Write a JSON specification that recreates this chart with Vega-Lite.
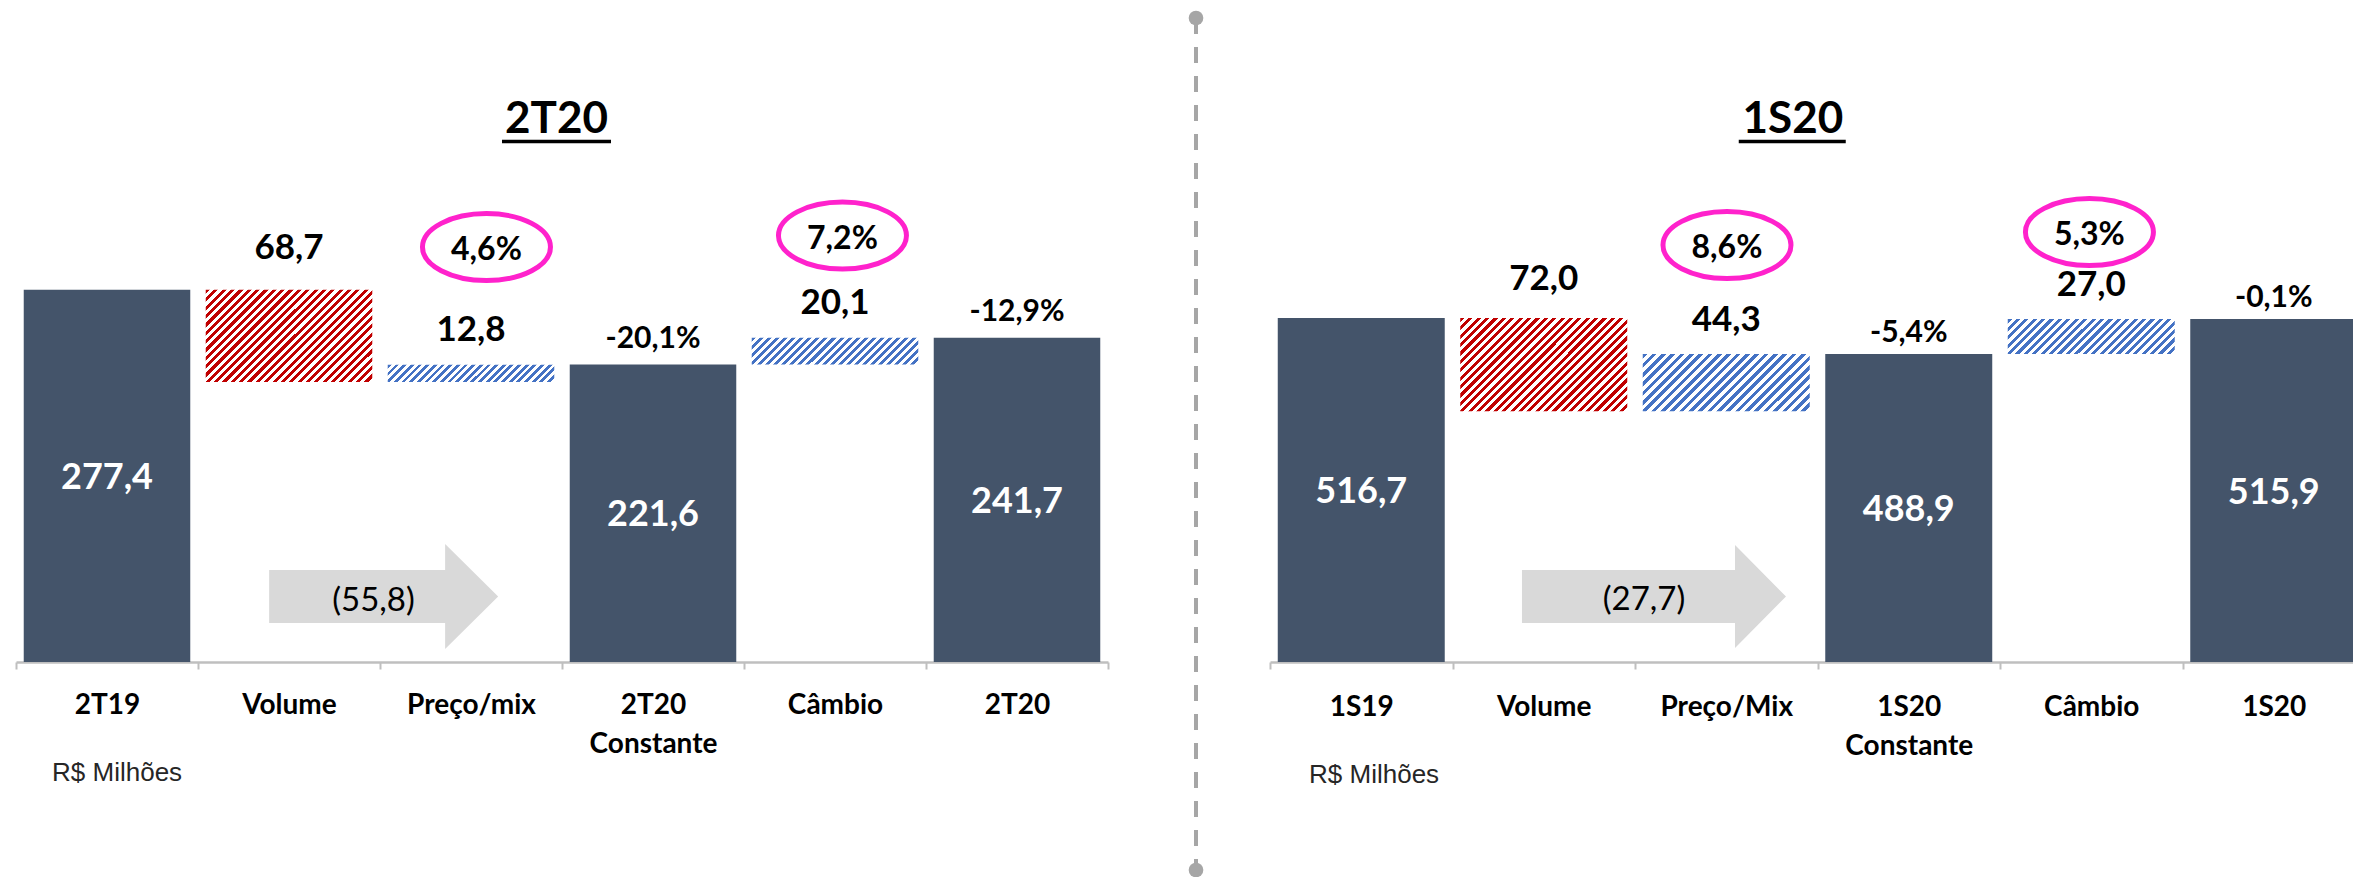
{
"width": 2353, "height": 662,
"autosize": {"type": "none"},
"padding": {"left": 0, "top": 0, "right": 0, "bottom": 215},
"background": "white",
"config": {"view": {"stroke": null}, "font": "Lato"},
"datasets": {
"left": [
{"cat":"2T19","kind":"total","lo":0,"hi":277.4,"value":"277,4","pct":""},
{"cat":"Volume","kind":"neg","lo":208.7,"hi":277.4,"value":"68,7","pct":""},
{"cat":"Preço/mix","kind":"pos","lo":208.7,"hi":221.5,"value":"12,8","pct":"4,6%"},
{"cat":"2T20 Constante","kind":"total","lo":0,"hi":221.6,"value":"221,6","pct":"-20,1%"},
{"cat":"Câmbio","kind":"pos","lo":221.6,"hi":241.7,"value":"20,1","pct":"7,2%"},
{"cat":"2T20","kind":"total","lo":0,"hi":241.7,"value":"241,7","pct":"-12,9%"}
],
"right": [
{"cat":"1S19","kind":"total","lo":0,"hi":516.7,"value":"516,7","pct":""},
{"cat":"Volume","kind":"neg","lo":444.7,"hi":516.7,"value":"72,0","pct":""},
{"cat":"Preço/Mix","kind":"pos","lo":444.7,"hi":489.0,"value":"44,3","pct":"8,6%"},
{"cat":"1S20 Constante","kind":"total","lo":0,"hi":488.9,"value":"488,9","pct":"-5,4%"},
{"cat":"Câmbio","kind":"pos","lo":488.9,"hi":515.9,"value":"27,0","pct":"5,3%"},
{"cat":"1S20","kind":"total","lo":0,"hi":515.9,"value":"515,9","pct":"-0,1%"}
],
"leftMeta": [{"title":"2T20","unit":"R$ Milhões","change":"(55,8)"}],
"rightMeta": [{"title":"1S20","unit":"R$ Milhões","change":"(27,7)"}]
},
"layer": [
{
"data": {"name": "left"},
"layer": [
{"layer": [
{"transform": [{"filter": {"field": "kind", "equal": "total"}}],
 "mark": {"type": "bar", "color": "#44546A", "width": {"band": 0.915}, "clip": true},
 "encoding": {
  "x": {"field": "cat", "type": "nominal", "scale": {"domain": ["2T19","Volume","Preço/mix","2T20 Constante","Câmbio","2T20"], "range": [16, 1108], "paddingInner": 0, "paddingOuter": 0},
   "axis": {"orient": "bottom", "title": null, "grid": false, "domainColor": "#BFBFBF", "domainWidth": 2.5, "tickColor": "#BFBFBF", "tickWidth": 2, "tickSize": 7, "tickBand": "extent", "labelAngle": 0, "labelFont": "Lato", "labelFontWeight": "bold", "labelFontSize": 28, "labelColor": "#000", "labelPadding": 22, "labelLineHeight": 39, "labelOverlap": false, "labelExpr": "isString(datum.value) ? split(datum.value, ' ') : ''"}},
  "y": {"field": "lo", "type": "quantitative", "scale": {"domain": [0, 493.3], "nice": false, "zero": false}, "axis": null},
  "y2": {"field": "hi"}}},
{"transform": [{"filter": {"field": "cat", "equal": "Volume"}}],
 "mark": {"type": "bar", "width": {"band": 0.915}, "fill": {"gradient": "linear", "x1": 0, "y1": 0, "x2": 1.189, "y2": 0.659, "stops": [
{"offset":0,"color":"#c00000"},{"offset":0.0161,"color":"#c00000"},{"offset":0.0161,"color":"#fff"},{"offset":0.0323,"color":"#fff"},
{"offset":0.0323,"color":"#c00000"},{"offset":0.0484,"color":"#c00000"},{"offset":0.0484,"color":"#fff"},{"offset":0.0645,"color":"#fff"},
{"offset":0.0645,"color":"#c00000"},{"offset":0.0806,"color":"#c00000"},{"offset":0.0806,"color":"#fff"},{"offset":0.0968,"color":"#fff"},
{"offset":0.0968,"color":"#c00000"},{"offset":0.1129,"color":"#c00000"},{"offset":0.1129,"color":"#fff"},{"offset":0.129,"color":"#fff"},
{"offset":0.129,"color":"#c00000"},{"offset":0.1452,"color":"#c00000"},{"offset":0.1452,"color":"#fff"},{"offset":0.1613,"color":"#fff"},
{"offset":0.1613,"color":"#c00000"},{"offset":0.1774,"color":"#c00000"},{"offset":0.1774,"color":"#fff"},{"offset":0.1935,"color":"#fff"},
{"offset":0.1935,"color":"#c00000"},{"offset":0.2097,"color":"#c00000"},{"offset":0.2097,"color":"#fff"},{"offset":0.2258,"color":"#fff"},
{"offset":0.2258,"color":"#c00000"},{"offset":0.2419,"color":"#c00000"},{"offset":0.2419,"color":"#fff"},{"offset":0.2581,"color":"#fff"},
{"offset":0.2581,"color":"#c00000"},{"offset":0.2742,"color":"#c00000"},{"offset":0.2742,"color":"#fff"},{"offset":0.2903,"color":"#fff"},
{"offset":0.2903,"color":"#c00000"},{"offset":0.3065,"color":"#c00000"},{"offset":0.3065,"color":"#fff"},{"offset":0.3226,"color":"#fff"},
{"offset":0.3226,"color":"#c00000"},{"offset":0.3387,"color":"#c00000"},{"offset":0.3387,"color":"#fff"},{"offset":0.3548,"color":"#fff"},
{"offset":0.3548,"color":"#c00000"},{"offset":0.371,"color":"#c00000"},{"offset":0.371,"color":"#fff"},{"offset":0.3871,"color":"#fff"},
{"offset":0.3871,"color":"#c00000"},{"offset":0.4032,"color":"#c00000"},{"offset":0.4032,"color":"#fff"},{"offset":0.4194,"color":"#fff"},
{"offset":0.4194,"color":"#c00000"},{"offset":0.4355,"color":"#c00000"},{"offset":0.4355,"color":"#fff"},{"offset":0.4516,"color":"#fff"},
{"offset":0.4516,"color":"#c00000"},{"offset":0.4677,"color":"#c00000"},{"offset":0.4677,"color":"#fff"},{"offset":0.4839,"color":"#fff"},
{"offset":0.4839,"color":"#c00000"},{"offset":0.5,"color":"#c00000"},{"offset":0.5,"color":"#fff"},{"offset":0.5161,"color":"#fff"},
{"offset":0.5161,"color":"#c00000"},{"offset":0.5323,"color":"#c00000"},{"offset":0.5323,"color":"#fff"},{"offset":0.5484,"color":"#fff"},
{"offset":0.5484,"color":"#c00000"},{"offset":0.5645,"color":"#c00000"},{"offset":0.5645,"color":"#fff"},{"offset":0.5806,"color":"#fff"},
{"offset":0.5806,"color":"#c00000"},{"offset":0.5968,"color":"#c00000"},{"offset":0.5968,"color":"#fff"},{"offset":0.6129,"color":"#fff"},
{"offset":0.6129,"color":"#c00000"},{"offset":0.629,"color":"#c00000"},{"offset":0.629,"color":"#fff"},{"offset":0.6452,"color":"#fff"},
{"offset":0.6452,"color":"#c00000"},{"offset":0.6613,"color":"#c00000"},{"offset":0.6613,"color":"#fff"},{"offset":0.6774,"color":"#fff"},
{"offset":0.6774,"color":"#c00000"},{"offset":0.6935,"color":"#c00000"},{"offset":0.6935,"color":"#fff"},{"offset":0.7097,"color":"#fff"},
{"offset":0.7097,"color":"#c00000"},{"offset":0.7258,"color":"#c00000"},{"offset":0.7258,"color":"#fff"},{"offset":0.7419,"color":"#fff"},
{"offset":0.7419,"color":"#c00000"},{"offset":0.7581,"color":"#c00000"},{"offset":0.7581,"color":"#fff"},{"offset":0.7742,"color":"#fff"},
{"offset":0.7742,"color":"#c00000"},{"offset":0.7903,"color":"#c00000"},{"offset":0.7903,"color":"#fff"},{"offset":0.8065,"color":"#fff"},
{"offset":0.8065,"color":"#c00000"},{"offset":0.8226,"color":"#c00000"},{"offset":0.8226,"color":"#fff"},{"offset":0.8387,"color":"#fff"},
{"offset":0.8387,"color":"#c00000"},{"offset":0.8548,"color":"#c00000"},{"offset":0.8548,"color":"#fff"},{"offset":0.871,"color":"#fff"},
{"offset":0.871,"color":"#c00000"},{"offset":0.8871,"color":"#c00000"},{"offset":0.8871,"color":"#fff"},{"offset":0.9032,"color":"#fff"},
{"offset":0.9032,"color":"#c00000"},{"offset":0.9194,"color":"#c00000"},{"offset":0.9194,"color":"#fff"},{"offset":0.9355,"color":"#fff"},
{"offset":0.9355,"color":"#c00000"},{"offset":0.9516,"color":"#c00000"},{"offset":0.9516,"color":"#fff"},{"offset":0.9677,"color":"#fff"},
{"offset":0.9677,"color":"#c00000"},{"offset":0.9839,"color":"#c00000"},{"offset":0.9839,"color":"#fff"},{"offset":1,"color":"#fff"}
 ]}},
 "encoding": {"x": {"field": "cat", "type": "nominal"}, "y": {"field": "lo", "type": "quantitative"}, "y2": {"field": "hi"}}},
{"transform": [{"filter": {"field": "cat", "equal": "Preço/mix"}}],
 "mark": {"type": "bar", "width": {"band": 0.915}, "fill": {"gradient": "linear", "x1": 0, "y1": 0, "x2": 1.0917, "y2": 0.1128, "stops": [
{"offset":0,"color":"#4472c4"},{"offset":0.0208,"color":"#4472c4"},{"offset":0.0208,"color":"#fff"},{"offset":0.0417,"color":"#fff"},
{"offset":0.0417,"color":"#4472c4"},{"offset":0.0625,"color":"#4472c4"},{"offset":0.0625,"color":"#fff"},{"offset":0.0833,"color":"#fff"},
{"offset":0.0833,"color":"#4472c4"},{"offset":0.1042,"color":"#4472c4"},{"offset":0.1042,"color":"#fff"},{"offset":0.125,"color":"#fff"},
{"offset":0.125,"color":"#4472c4"},{"offset":0.1458,"color":"#4472c4"},{"offset":0.1458,"color":"#fff"},{"offset":0.1667,"color":"#fff"},
{"offset":0.1667,"color":"#4472c4"},{"offset":0.1875,"color":"#4472c4"},{"offset":0.1875,"color":"#fff"},{"offset":0.2083,"color":"#fff"},
{"offset":0.2083,"color":"#4472c4"},{"offset":0.2292,"color":"#4472c4"},{"offset":0.2292,"color":"#fff"},{"offset":0.25,"color":"#fff"},
{"offset":0.25,"color":"#4472c4"},{"offset":0.2708,"color":"#4472c4"},{"offset":0.2708,"color":"#fff"},{"offset":0.2917,"color":"#fff"},
{"offset":0.2917,"color":"#4472c4"},{"offset":0.3125,"color":"#4472c4"},{"offset":0.3125,"color":"#fff"},{"offset":0.3333,"color":"#fff"},
{"offset":0.3333,"color":"#4472c4"},{"offset":0.3542,"color":"#4472c4"},{"offset":0.3542,"color":"#fff"},{"offset":0.375,"color":"#fff"},
{"offset":0.375,"color":"#4472c4"},{"offset":0.3958,"color":"#4472c4"},{"offset":0.3958,"color":"#fff"},{"offset":0.4167,"color":"#fff"},
{"offset":0.4167,"color":"#4472c4"},{"offset":0.4375,"color":"#4472c4"},{"offset":0.4375,"color":"#fff"},{"offset":0.4583,"color":"#fff"},
{"offset":0.4583,"color":"#4472c4"},{"offset":0.4792,"color":"#4472c4"},{"offset":0.4792,"color":"#fff"},{"offset":0.5,"color":"#fff"},
{"offset":0.5,"color":"#4472c4"},{"offset":0.5208,"color":"#4472c4"},{"offset":0.5208,"color":"#fff"},{"offset":0.5417,"color":"#fff"},
{"offset":0.5417,"color":"#4472c4"},{"offset":0.5625,"color":"#4472c4"},{"offset":0.5625,"color":"#fff"},{"offset":0.5833,"color":"#fff"},
{"offset":0.5833,"color":"#4472c4"},{"offset":0.6042,"color":"#4472c4"},{"offset":0.6042,"color":"#fff"},{"offset":0.625,"color":"#fff"},
{"offset":0.625,"color":"#4472c4"},{"offset":0.6458,"color":"#4472c4"},{"offset":0.6458,"color":"#fff"},{"offset":0.6667,"color":"#fff"},
{"offset":0.6667,"color":"#4472c4"},{"offset":0.6875,"color":"#4472c4"},{"offset":0.6875,"color":"#fff"},{"offset":0.7083,"color":"#fff"},
{"offset":0.7083,"color":"#4472c4"},{"offset":0.7292,"color":"#4472c4"},{"offset":0.7292,"color":"#fff"},{"offset":0.75,"color":"#fff"},
{"offset":0.75,"color":"#4472c4"},{"offset":0.7708,"color":"#4472c4"},{"offset":0.7708,"color":"#fff"},{"offset":0.7917,"color":"#fff"},
{"offset":0.7917,"color":"#4472c4"},{"offset":0.8125,"color":"#4472c4"},{"offset":0.8125,"color":"#fff"},{"offset":0.8333,"color":"#fff"},
{"offset":0.8333,"color":"#4472c4"},{"offset":0.8542,"color":"#4472c4"},{"offset":0.8542,"color":"#fff"},{"offset":0.875,"color":"#fff"},
{"offset":0.875,"color":"#4472c4"},{"offset":0.8958,"color":"#4472c4"},{"offset":0.8958,"color":"#fff"},{"offset":0.9167,"color":"#fff"},
{"offset":0.9167,"color":"#4472c4"},{"offset":0.9375,"color":"#4472c4"},{"offset":0.9375,"color":"#fff"},{"offset":0.9583,"color":"#fff"},
{"offset":0.9583,"color":"#4472c4"},{"offset":0.9792,"color":"#4472c4"},{"offset":0.9792,"color":"#fff"},{"offset":1,"color":"#fff"}
 ]}},
 "encoding": {"x": {"field": "cat", "type": "nominal"}, "y": {"field": "lo", "type": "quantitative"}, "y2": {"field": "hi"}}},
{"transform": [{"filter": {"field": "cat", "equal": "Câmbio"}}],
 "mark": {"type": "bar", "width": {"band": 0.915}, "fill": {"gradient": "linear", "x1": 0, "y1": 0, "x2": 1.132, "y2": 0.1835, "stops": [
{"offset":0,"color":"#4472c4"},{"offset":0.0208,"color":"#4472c4"},{"offset":0.0208,"color":"#fff"},{"offset":0.0417,"color":"#fff"},
{"offset":0.0417,"color":"#4472c4"},{"offset":0.0625,"color":"#4472c4"},{"offset":0.0625,"color":"#fff"},{"offset":0.0833,"color":"#fff"},
{"offset":0.0833,"color":"#4472c4"},{"offset":0.1042,"color":"#4472c4"},{"offset":0.1042,"color":"#fff"},{"offset":0.125,"color":"#fff"},
{"offset":0.125,"color":"#4472c4"},{"offset":0.1458,"color":"#4472c4"},{"offset":0.1458,"color":"#fff"},{"offset":0.1667,"color":"#fff"},
{"offset":0.1667,"color":"#4472c4"},{"offset":0.1875,"color":"#4472c4"},{"offset":0.1875,"color":"#fff"},{"offset":0.2083,"color":"#fff"},
{"offset":0.2083,"color":"#4472c4"},{"offset":0.2292,"color":"#4472c4"},{"offset":0.2292,"color":"#fff"},{"offset":0.25,"color":"#fff"},
{"offset":0.25,"color":"#4472c4"},{"offset":0.2708,"color":"#4472c4"},{"offset":0.2708,"color":"#fff"},{"offset":0.2917,"color":"#fff"},
{"offset":0.2917,"color":"#4472c4"},{"offset":0.3125,"color":"#4472c4"},{"offset":0.3125,"color":"#fff"},{"offset":0.3333,"color":"#fff"},
{"offset":0.3333,"color":"#4472c4"},{"offset":0.3542,"color":"#4472c4"},{"offset":0.3542,"color":"#fff"},{"offset":0.375,"color":"#fff"},
{"offset":0.375,"color":"#4472c4"},{"offset":0.3958,"color":"#4472c4"},{"offset":0.3958,"color":"#fff"},{"offset":0.4167,"color":"#fff"},
{"offset":0.4167,"color":"#4472c4"},{"offset":0.4375,"color":"#4472c4"},{"offset":0.4375,"color":"#fff"},{"offset":0.4583,"color":"#fff"},
{"offset":0.4583,"color":"#4472c4"},{"offset":0.4792,"color":"#4472c4"},{"offset":0.4792,"color":"#fff"},{"offset":0.5,"color":"#fff"},
{"offset":0.5,"color":"#4472c4"},{"offset":0.5208,"color":"#4472c4"},{"offset":0.5208,"color":"#fff"},{"offset":0.5417,"color":"#fff"},
{"offset":0.5417,"color":"#4472c4"},{"offset":0.5625,"color":"#4472c4"},{"offset":0.5625,"color":"#fff"},{"offset":0.5833,"color":"#fff"},
{"offset":0.5833,"color":"#4472c4"},{"offset":0.6042,"color":"#4472c4"},{"offset":0.6042,"color":"#fff"},{"offset":0.625,"color":"#fff"},
{"offset":0.625,"color":"#4472c4"},{"offset":0.6458,"color":"#4472c4"},{"offset":0.6458,"color":"#fff"},{"offset":0.6667,"color":"#fff"},
{"offset":0.6667,"color":"#4472c4"},{"offset":0.6875,"color":"#4472c4"},{"offset":0.6875,"color":"#fff"},{"offset":0.7083,"color":"#fff"},
{"offset":0.7083,"color":"#4472c4"},{"offset":0.7292,"color":"#4472c4"},{"offset":0.7292,"color":"#fff"},{"offset":0.75,"color":"#fff"},
{"offset":0.75,"color":"#4472c4"},{"offset":0.7708,"color":"#4472c4"},{"offset":0.7708,"color":"#fff"},{"offset":0.7917,"color":"#fff"},
{"offset":0.7917,"color":"#4472c4"},{"offset":0.8125,"color":"#4472c4"},{"offset":0.8125,"color":"#fff"},{"offset":0.8333,"color":"#fff"},
{"offset":0.8333,"color":"#4472c4"},{"offset":0.8542,"color":"#4472c4"},{"offset":0.8542,"color":"#fff"},{"offset":0.875,"color":"#fff"},
{"offset":0.875,"color":"#4472c4"},{"offset":0.8958,"color":"#4472c4"},{"offset":0.8958,"color":"#fff"},{"offset":0.9167,"color":"#fff"},
{"offset":0.9167,"color":"#4472c4"},{"offset":0.9375,"color":"#4472c4"},{"offset":0.9375,"color":"#fff"},{"offset":0.9583,"color":"#fff"},
{"offset":0.9583,"color":"#4472c4"},{"offset":0.9792,"color":"#4472c4"},{"offset":0.9792,"color":"#fff"},{"offset":1,"color":"#fff"}
 ]}},
 "encoding": {"x": {"field": "cat", "type": "nominal"}, "y": {"field": "lo", "type": "quantitative"}, "y2": {"field": "hi"}}},
{"transform": [{"filter": {"field": "kind", "equal": "neg"}}],
 "mark": {"type": "text", "fontWeight": "bold", "fontSize": 35, "color": "#000", "baseline": "alphabetic", "align": "center", "dy": -31},
 "encoding": {"x": {"field": "cat", "type": "nominal"}, "y": {"field": "hi", "type": "quantitative"}, "text": {"field": "value"}}},
{"transform": [{"filter": {"field": "kind", "equal": "pos"}}],
 "mark": {"type": "text", "fontWeight": "bold", "fontSize": 35, "color": "#000", "baseline": "alphabetic", "align": "center", "dy": -24},
 "encoding": {"x": {"field": "cat", "type": "nominal"}, "y": {"field": "hi", "type": "quantitative"}, "text": {"field": "value"}}},
{"transform": [{"filter": "datum.kind == 'total' && datum.pct != ''"}],
 "mark": {"type": "text", "fontWeight": "bold", "fontSize": 30, "color": "#000", "baseline": "alphabetic", "align": "center", "dy": -17},
 "encoding": {"x": {"field": "cat", "type": "nominal"}, "y": {"field": "hi", "type": "quantitative"}, "text": {"field": "pct"}}},
{"transform": [{"filter": {"field": "cat", "equal": "Preço/mix"}}],
 "encoding": {"x": {"field": "cat", "type": "nominal", "bandPosition": 0.585}, "y": {"datum": 309.2, "type": "quantitative"}},
 "layer": [
  {"mark": {"type": "point", "shape": "M 1 0 C 1 0.289 0.552 0.523 0 0.523 C -0.552 0.523 -1 0.289 -1 0 C -1 -0.289 -0.552 -0.523 0 -0.523 C 0.552 -0.523 1 -0.289 1 0 Z", "size": 16384, "filled": false, "color": "#FF22CC", "strokeWidth": 5, "opacity": 1}},
  {"mark": {"type": "text", "fontWeight": "bold", "fontSize": 32, "color": "#000", "baseline": "middle", "align": "center", "dy": 3}, "encoding": {"text": {"field": "pct"}}}
 ]},
{"transform": [{"filter": {"field": "cat", "equal": "Câmbio"}}],
 "encoding": {"x": {"field": "cat", "type": "nominal", "bandPosition": 0.541}, "y": {"datum": 317.8, "type": "quantitative"}},
 "layer": [
  {"mark": {"type": "point", "shape": "M 1 0 C 1 0.289 0.552 0.523 0 0.523 C -0.552 0.523 -1 0.289 -1 0 C -1 -0.289 -0.552 -0.523 0 -0.523 C 0.552 -0.523 1 -0.289 1 0 Z", "size": 16384, "filled": false, "color": "#FF22CC", "strokeWidth": 5, "opacity": 1}},
  {"mark": {"type": "text", "fontWeight": "bold", "fontSize": 32, "color": "#000", "baseline": "middle", "align": "center", "dy": 3}, "encoding": {"text": {"field": "pct"}}}
 ]},
{"data": {"name": "leftMeta"},
 "mark": {"type": "point", "shape": "M -1 -0.231 L 0.537 -0.231 L 0.537 -0.459 L 1 0 L 0.537 0.459 L 0.537 0.231 L -1 0.231 Z", "size": 52441, "filled": true, "color": "#D9D9D9", "opacity": 1, "strokeWidth": 0},
 "encoding": {"x": {"datum": "Preço/mix", "type": "nominal", "bandPosition": 0.02}, "y": {"datum": 48.8, "type": "quantitative"}}},
{"data": {"name": "leftMeta"},
 "mark": {"type": "text", "fontSize": 33, "color": "#000", "baseline": "middle", "align": "center"},
 "encoding": {"x": {"datum": "Volume", "type": "nominal", "bandPosition": 0.964}, "y": {"datum": 45.5, "type": "quantitative"}, "text": {"field": "change"}}},
{"data": {"name": "leftMeta"},
 "mark": {"type": "text", "fontWeight": "bold", "fontSize": 44, "color": "#000", "baseline": "alphabetic", "align": "center"},
 "encoding": {"x": {"datum": "Preço/mix", "type": "nominal", "bandPosition": 0.97}, "y": {"datum": 394.2, "type": "quantitative"}, "text": {"field": "title"}}},
{"data": {"name": "leftMeta"},
 "mark": {"type": "tick", "orient": "horizontal", "size": 109, "thickness": 3.5, "color": "#000", "opacity": 1, "xOffset": 85.5},
 "encoding": {"x": {"datum": "Preço/mix", "type": "nominal"}, "y": {"datum": 387.9, "type": "quantitative"}}},
{"data": {"name": "leftMeta"},
 "mark": {"type": "text", "font": "Liberation Sans", "fontSize": 26, "color": "#262626", "baseline": "alphabetic", "align": "left"},
 "encoding": {"x": {"datum": "2T19", "type": "nominal", "bandPosition": 0.198}, "y": {"datum": -88.7, "type": "quantitative"}, "text": {"field": "unit"}}},
{"data": {"name": "leftMeta"},
 "mark": {"type": "rule", "color": "#A6A6A6", "strokeWidth": 4, "strokeDash": [16, 13]},
 "encoding": {"x": {"datum": "2T20", "type": "nominal", "bandPosition": 1.4835}, "y": {"datum": 479.9, "type": "quantitative"}, "y2": {"datum": -155}}},
{"data": {"name": "leftMeta"},
 "mark": {"type": "point", "filled": true, "color": "#A6A6A6", "size": 214, "opacity": 1},
 "encoding": {"x": {"datum": "2T20", "type": "nominal", "bandPosition": 1.4835}, "y": {"datum": 479.9, "type": "quantitative"}}},
{"data": {"name": "leftMeta"},
 "mark": {"type": "point", "filled": true, "color": "#A6A6A6", "size": 214, "opacity": 1},
 "encoding": {"x": {"datum": "2T20", "type": "nominal", "bandPosition": 1.4835}, "y": {"datum": -155, "type": "quantitative"}}}
]},
{"transform": [{"filter": {"field": "kind", "equal": "total"}}],
 "mark": {"type": "text", "fontWeight": "bold", "fontSize": 36, "color": "#fff", "baseline": "middle", "align": "center", "dy": 2},
 "encoding": {"x": {"field": "cat", "type": "nominal"}, "y": {"field": "hi", "type": "quantitative", "scale": {"domain": [0, 986.6], "nice": false, "zero": false}, "axis": null}, "text": {"field": "value"}}}
],
"resolve": {"scale": {"y": "independent"}}
},
{
"data": {"name": "right"},
"layer": [
{"layer": [
{"transform": [{"filter": {"field": "kind", "equal": "total"}}],
 "mark": {"type": "bar", "color": "#44546A", "width": {"band": 0.915}, "clip": true},
 "encoding": {
  "x": {"field": "cat", "type": "nominal", "scale": {"domain": ["1S19","Volume","Preço/Mix","1S20 Constante","Câmbio","1S20"], "range": [1270, 2365], "paddingInner": 0, "paddingOuter": 0},
   "axis": {"orient": "bottom", "title": null, "grid": false, "domainColor": "#BFBFBF", "domainWidth": 2.5, "tickColor": "#BFBFBF", "tickWidth": 2, "tickSize": 7, "tickBand": "extent", "labelAngle": 0, "labelFont": "Lato", "labelFontWeight": "bold", "labelFontSize": 28, "labelColor": "#000", "labelPadding": 24, "labelLineHeight": 39, "labelOverlap": false, "labelExpr": "isString(datum.value) ? split(datum.value, ' ') : ''"}},
  "y": {"field": "lo", "type": "quantitative", "scale": {"domain": [251.1, 762.3], "nice": false, "zero": false}, "axis": null},
  "y2": {"field": "hi"}}},
{"transform": [{"filter": {"field": "cat", "equal": "Volume"}}],
 "mark": {"type": "bar", "width": {"band": 0.915}, "fill": {"gradient": "linear", "x1": 0, "y1": 0, "x2": 1.188, "y2": 0.663, "stops": [
{"offset":0,"color":"#c00000"},{"offset":0.0161,"color":"#c00000"},{"offset":0.0161,"color":"#fff"},{"offset":0.0323,"color":"#fff"},
{"offset":0.0323,"color":"#c00000"},{"offset":0.0484,"color":"#c00000"},{"offset":0.0484,"color":"#fff"},{"offset":0.0645,"color":"#fff"},
{"offset":0.0645,"color":"#c00000"},{"offset":0.0806,"color":"#c00000"},{"offset":0.0806,"color":"#fff"},{"offset":0.0968,"color":"#fff"},
{"offset":0.0968,"color":"#c00000"},{"offset":0.1129,"color":"#c00000"},{"offset":0.1129,"color":"#fff"},{"offset":0.129,"color":"#fff"},
{"offset":0.129,"color":"#c00000"},{"offset":0.1452,"color":"#c00000"},{"offset":0.1452,"color":"#fff"},{"offset":0.1613,"color":"#fff"},
{"offset":0.1613,"color":"#c00000"},{"offset":0.1774,"color":"#c00000"},{"offset":0.1774,"color":"#fff"},{"offset":0.1935,"color":"#fff"},
{"offset":0.1935,"color":"#c00000"},{"offset":0.2097,"color":"#c00000"},{"offset":0.2097,"color":"#fff"},{"offset":0.2258,"color":"#fff"},
{"offset":0.2258,"color":"#c00000"},{"offset":0.2419,"color":"#c00000"},{"offset":0.2419,"color":"#fff"},{"offset":0.2581,"color":"#fff"},
{"offset":0.2581,"color":"#c00000"},{"offset":0.2742,"color":"#c00000"},{"offset":0.2742,"color":"#fff"},{"offset":0.2903,"color":"#fff"},
{"offset":0.2903,"color":"#c00000"},{"offset":0.3065,"color":"#c00000"},{"offset":0.3065,"color":"#fff"},{"offset":0.3226,"color":"#fff"},
{"offset":0.3226,"color":"#c00000"},{"offset":0.3387,"color":"#c00000"},{"offset":0.3387,"color":"#fff"},{"offset":0.3548,"color":"#fff"},
{"offset":0.3548,"color":"#c00000"},{"offset":0.371,"color":"#c00000"},{"offset":0.371,"color":"#fff"},{"offset":0.3871,"color":"#fff"},
{"offset":0.3871,"color":"#c00000"},{"offset":0.4032,"color":"#c00000"},{"offset":0.4032,"color":"#fff"},{"offset":0.4194,"color":"#fff"},
{"offset":0.4194,"color":"#c00000"},{"offset":0.4355,"color":"#c00000"},{"offset":0.4355,"color":"#fff"},{"offset":0.4516,"color":"#fff"},
{"offset":0.4516,"color":"#c00000"},{"offset":0.4677,"color":"#c00000"},{"offset":0.4677,"color":"#fff"},{"offset":0.4839,"color":"#fff"},
{"offset":0.4839,"color":"#c00000"},{"offset":0.5,"color":"#c00000"},{"offset":0.5,"color":"#fff"},{"offset":0.5161,"color":"#fff"},
{"offset":0.5161,"color":"#c00000"},{"offset":0.5323,"color":"#c00000"},{"offset":0.5323,"color":"#fff"},{"offset":0.5484,"color":"#fff"},
{"offset":0.5484,"color":"#c00000"},{"offset":0.5645,"color":"#c00000"},{"offset":0.5645,"color":"#fff"},{"offset":0.5806,"color":"#fff"},
{"offset":0.5806,"color":"#c00000"},{"offset":0.5968,"color":"#c00000"},{"offset":0.5968,"color":"#fff"},{"offset":0.6129,"color":"#fff"},
{"offset":0.6129,"color":"#c00000"},{"offset":0.629,"color":"#c00000"},{"offset":0.629,"color":"#fff"},{"offset":0.6452,"color":"#fff"},
{"offset":0.6452,"color":"#c00000"},{"offset":0.6613,"color":"#c00000"},{"offset":0.6613,"color":"#fff"},{"offset":0.6774,"color":"#fff"},
{"offset":0.6774,"color":"#c00000"},{"offset":0.6935,"color":"#c00000"},{"offset":0.6935,"color":"#fff"},{"offset":0.7097,"color":"#fff"},
{"offset":0.7097,"color":"#c00000"},{"offset":0.7258,"color":"#c00000"},{"offset":0.7258,"color":"#fff"},{"offset":0.7419,"color":"#fff"},
{"offset":0.7419,"color":"#c00000"},{"offset":0.7581,"color":"#c00000"},{"offset":0.7581,"color":"#fff"},{"offset":0.7742,"color":"#fff"},
{"offset":0.7742,"color":"#c00000"},{"offset":0.7903,"color":"#c00000"},{"offset":0.7903,"color":"#fff"},{"offset":0.8065,"color":"#fff"},
{"offset":0.8065,"color":"#c00000"},{"offset":0.8226,"color":"#c00000"},{"offset":0.8226,"color":"#fff"},{"offset":0.8387,"color":"#fff"},
{"offset":0.8387,"color":"#c00000"},{"offset":0.8548,"color":"#c00000"},{"offset":0.8548,"color":"#fff"},{"offset":0.871,"color":"#fff"},
{"offset":0.871,"color":"#c00000"},{"offset":0.8871,"color":"#c00000"},{"offset":0.8871,"color":"#fff"},{"offset":0.9032,"color":"#fff"},
{"offset":0.9032,"color":"#c00000"},{"offset":0.9194,"color":"#c00000"},{"offset":0.9194,"color":"#fff"},{"offset":0.9355,"color":"#fff"},
{"offset":0.9355,"color":"#c00000"},{"offset":0.9516,"color":"#c00000"},{"offset":0.9516,"color":"#fff"},{"offset":0.9677,"color":"#fff"},
{"offset":0.9677,"color":"#c00000"},{"offset":0.9839,"color":"#c00000"},{"offset":0.9839,"color":"#fff"},{"offset":1,"color":"#fff"}
 ]}},
 "encoding": {"x": {"field": "cat", "type": "nominal"}, "y": {"field": "lo", "type": "quantitative"}, "y2": {"field": "hi"}}},
{"transform": [{"filter": {"field": "cat", "equal": "Preço/Mix"}}],
 "mark": {"type": "bar", "width": {"band": 0.915}, "fill": {"gradient": "linear", "x1": 0, "y1": 0, "x2": 1.202, "y2": 0.4134, "stops": [
{"offset":0,"color":"#4472c4"},{"offset":0.0208,"color":"#4472c4"},{"offset":0.0208,"color":"#fff"},{"offset":0.0417,"color":"#fff"},
{"offset":0.0417,"color":"#4472c4"},{"offset":0.0625,"color":"#4472c4"},{"offset":0.0625,"color":"#fff"},{"offset":0.0833,"color":"#fff"},
{"offset":0.0833,"color":"#4472c4"},{"offset":0.1042,"color":"#4472c4"},{"offset":0.1042,"color":"#fff"},{"offset":0.125,"color":"#fff"},
{"offset":0.125,"color":"#4472c4"},{"offset":0.1458,"color":"#4472c4"},{"offset":0.1458,"color":"#fff"},{"offset":0.1667,"color":"#fff"},
{"offset":0.1667,"color":"#4472c4"},{"offset":0.1875,"color":"#4472c4"},{"offset":0.1875,"color":"#fff"},{"offset":0.2083,"color":"#fff"},
{"offset":0.2083,"color":"#4472c4"},{"offset":0.2292,"color":"#4472c4"},{"offset":0.2292,"color":"#fff"},{"offset":0.25,"color":"#fff"},
{"offset":0.25,"color":"#4472c4"},{"offset":0.2708,"color":"#4472c4"},{"offset":0.2708,"color":"#fff"},{"offset":0.2917,"color":"#fff"},
{"offset":0.2917,"color":"#4472c4"},{"offset":0.3125,"color":"#4472c4"},{"offset":0.3125,"color":"#fff"},{"offset":0.3333,"color":"#fff"},
{"offset":0.3333,"color":"#4472c4"},{"offset":0.3542,"color":"#4472c4"},{"offset":0.3542,"color":"#fff"},{"offset":0.375,"color":"#fff"},
{"offset":0.375,"color":"#4472c4"},{"offset":0.3958,"color":"#4472c4"},{"offset":0.3958,"color":"#fff"},{"offset":0.4167,"color":"#fff"},
{"offset":0.4167,"color":"#4472c4"},{"offset":0.4375,"color":"#4472c4"},{"offset":0.4375,"color":"#fff"},{"offset":0.4583,"color":"#fff"},
{"offset":0.4583,"color":"#4472c4"},{"offset":0.4792,"color":"#4472c4"},{"offset":0.4792,"color":"#fff"},{"offset":0.5,"color":"#fff"},
{"offset":0.5,"color":"#4472c4"},{"offset":0.5208,"color":"#4472c4"},{"offset":0.5208,"color":"#fff"},{"offset":0.5417,"color":"#fff"},
{"offset":0.5417,"color":"#4472c4"},{"offset":0.5625,"color":"#4472c4"},{"offset":0.5625,"color":"#fff"},{"offset":0.5833,"color":"#fff"},
{"offset":0.5833,"color":"#4472c4"},{"offset":0.6042,"color":"#4472c4"},{"offset":0.6042,"color":"#fff"},{"offset":0.625,"color":"#fff"},
{"offset":0.625,"color":"#4472c4"},{"offset":0.6458,"color":"#4472c4"},{"offset":0.6458,"color":"#fff"},{"offset":0.6667,"color":"#fff"},
{"offset":0.6667,"color":"#4472c4"},{"offset":0.6875,"color":"#4472c4"},{"offset":0.6875,"color":"#fff"},{"offset":0.7083,"color":"#fff"},
{"offset":0.7083,"color":"#4472c4"},{"offset":0.7292,"color":"#4472c4"},{"offset":0.7292,"color":"#fff"},{"offset":0.75,"color":"#fff"},
{"offset":0.75,"color":"#4472c4"},{"offset":0.7708,"color":"#4472c4"},{"offset":0.7708,"color":"#fff"},{"offset":0.7917,"color":"#fff"},
{"offset":0.7917,"color":"#4472c4"},{"offset":0.8125,"color":"#4472c4"},{"offset":0.8125,"color":"#fff"},{"offset":0.8333,"color":"#fff"},
{"offset":0.8333,"color":"#4472c4"},{"offset":0.8542,"color":"#4472c4"},{"offset":0.8542,"color":"#fff"},{"offset":0.875,"color":"#fff"},
{"offset":0.875,"color":"#4472c4"},{"offset":0.8958,"color":"#4472c4"},{"offset":0.8958,"color":"#fff"},{"offset":0.9167,"color":"#fff"},
{"offset":0.9167,"color":"#4472c4"},{"offset":0.9375,"color":"#4472c4"},{"offset":0.9375,"color":"#fff"},{"offset":0.9583,"color":"#fff"},
{"offset":0.9583,"color":"#4472c4"},{"offset":0.9792,"color":"#4472c4"},{"offset":0.9792,"color":"#fff"},{"offset":1,"color":"#fff"}
 ]}},
 "encoding": {"x": {"field": "cat", "type": "nominal"}, "y": {"field": "lo", "type": "quantitative"}, "y2": {"field": "hi"}}},
{"transform": [{"filter": {"field": "cat", "equal": "Câmbio"}}],
 "mark": {"type": "bar", "width": {"band": 0.915}, "fill": {"gradient": "linear", "x1": 0, "y1": 0, "x2": 1.1587, "y2": 0.2429, "stops": [
{"offset":0,"color":"#4472c4"},{"offset":0.0208,"color":"#4472c4"},{"offset":0.0208,"color":"#fff"},{"offset":0.0417,"color":"#fff"},
{"offset":0.0417,"color":"#4472c4"},{"offset":0.0625,"color":"#4472c4"},{"offset":0.0625,"color":"#fff"},{"offset":0.0833,"color":"#fff"},
{"offset":0.0833,"color":"#4472c4"},{"offset":0.1042,"color":"#4472c4"},{"offset":0.1042,"color":"#fff"},{"offset":0.125,"color":"#fff"},
{"offset":0.125,"color":"#4472c4"},{"offset":0.1458,"color":"#4472c4"},{"offset":0.1458,"color":"#fff"},{"offset":0.1667,"color":"#fff"},
{"offset":0.1667,"color":"#4472c4"},{"offset":0.1875,"color":"#4472c4"},{"offset":0.1875,"color":"#fff"},{"offset":0.2083,"color":"#fff"},
{"offset":0.2083,"color":"#4472c4"},{"offset":0.2292,"color":"#4472c4"},{"offset":0.2292,"color":"#fff"},{"offset":0.25,"color":"#fff"},
{"offset":0.25,"color":"#4472c4"},{"offset":0.2708,"color":"#4472c4"},{"offset":0.2708,"color":"#fff"},{"offset":0.2917,"color":"#fff"},
{"offset":0.2917,"color":"#4472c4"},{"offset":0.3125,"color":"#4472c4"},{"offset":0.3125,"color":"#fff"},{"offset":0.3333,"color":"#fff"},
{"offset":0.3333,"color":"#4472c4"},{"offset":0.3542,"color":"#4472c4"},{"offset":0.3542,"color":"#fff"},{"offset":0.375,"color":"#fff"},
{"offset":0.375,"color":"#4472c4"},{"offset":0.3958,"color":"#4472c4"},{"offset":0.3958,"color":"#fff"},{"offset":0.4167,"color":"#fff"},
{"offset":0.4167,"color":"#4472c4"},{"offset":0.4375,"color":"#4472c4"},{"offset":0.4375,"color":"#fff"},{"offset":0.4583,"color":"#fff"},
{"offset":0.4583,"color":"#4472c4"},{"offset":0.4792,"color":"#4472c4"},{"offset":0.4792,"color":"#fff"},{"offset":0.5,"color":"#fff"},
{"offset":0.5,"color":"#4472c4"},{"offset":0.5208,"color":"#4472c4"},{"offset":0.5208,"color":"#fff"},{"offset":0.5417,"color":"#fff"},
{"offset":0.5417,"color":"#4472c4"},{"offset":0.5625,"color":"#4472c4"},{"offset":0.5625,"color":"#fff"},{"offset":0.5833,"color":"#fff"},
{"offset":0.5833,"color":"#4472c4"},{"offset":0.6042,"color":"#4472c4"},{"offset":0.6042,"color":"#fff"},{"offset":0.625,"color":"#fff"},
{"offset":0.625,"color":"#4472c4"},{"offset":0.6458,"color":"#4472c4"},{"offset":0.6458,"color":"#fff"},{"offset":0.6667,"color":"#fff"},
{"offset":0.6667,"color":"#4472c4"},{"offset":0.6875,"color":"#4472c4"},{"offset":0.6875,"color":"#fff"},{"offset":0.7083,"color":"#fff"},
{"offset":0.7083,"color":"#4472c4"},{"offset":0.7292,"color":"#4472c4"},{"offset":0.7292,"color":"#fff"},{"offset":0.75,"color":"#fff"},
{"offset":0.75,"color":"#4472c4"},{"offset":0.7708,"color":"#4472c4"},{"offset":0.7708,"color":"#fff"},{"offset":0.7917,"color":"#fff"},
{"offset":0.7917,"color":"#4472c4"},{"offset":0.8125,"color":"#4472c4"},{"offset":0.8125,"color":"#fff"},{"offset":0.8333,"color":"#fff"},
{"offset":0.8333,"color":"#4472c4"},{"offset":0.8542,"color":"#4472c4"},{"offset":0.8542,"color":"#fff"},{"offset":0.875,"color":"#fff"},
{"offset":0.875,"color":"#4472c4"},{"offset":0.8958,"color":"#4472c4"},{"offset":0.8958,"color":"#fff"},{"offset":0.9167,"color":"#fff"},
{"offset":0.9167,"color":"#4472c4"},{"offset":0.9375,"color":"#4472c4"},{"offset":0.9375,"color":"#fff"},{"offset":0.9583,"color":"#fff"},
{"offset":0.9583,"color":"#4472c4"},{"offset":0.9792,"color":"#4472c4"},{"offset":0.9792,"color":"#fff"},{"offset":1,"color":"#fff"}
 ]}},
 "encoding": {"x": {"field": "cat", "type": "nominal"}, "y": {"field": "lo", "type": "quantitative"}, "y2": {"field": "hi"}}},
{"transform": [{"filter": {"field": "kind", "equal": "neg"}}],
 "mark": {"type": "text", "fontWeight": "bold", "fontSize": 35, "color": "#000", "baseline": "alphabetic", "align": "center", "dy": -28},
 "encoding": {"x": {"field": "cat", "type": "nominal"}, "y": {"field": "hi", "type": "quantitative"}, "text": {"field": "value"}}},
{"transform": [{"filter": {"field": "kind", "equal": "pos"}}],
 "mark": {"type": "text", "fontWeight": "bold", "fontSize": 35, "color": "#000", "baseline": "alphabetic", "align": "center", "dy": -23},
 "encoding": {"x": {"field": "cat", "type": "nominal"}, "y": {"field": "hi", "type": "quantitative"}, "text": {"field": "value"}}},
{"transform": [{"filter": "datum.kind == 'total' && datum.pct != ''"}],
 "mark": {"type": "text", "fontWeight": "bold", "fontSize": 30, "color": "#000", "baseline": "alphabetic", "align": "center", "dy": -12},
 "encoding": {"x": {"field": "cat", "type": "nominal"}, "y": {"field": "hi", "type": "quantitative"}, "text": {"field": "pct"}}},
{"transform": [{"filter": {"field": "cat", "equal": "Preço/Mix"}}],
 "encoding": {"x": {"field": "cat", "type": "nominal", "bandPosition": 0.504}, "y": {"datum": 573.1, "type": "quantitative"}},
 "layer": [
  {"mark": {"type": "point", "shape": "M 1 0 C 1 0.289 0.552 0.523 0 0.523 C -0.552 0.523 -1 0.289 -1 0 C -1 -0.289 -0.552 -0.523 0 -0.523 C 0.552 -0.523 1 -0.289 1 0 Z", "size": 16384, "filled": false, "color": "#FF22CC", "strokeWidth": 5, "opacity": 1}},
  {"mark": {"type": "text", "fontWeight": "bold", "fontSize": 32, "color": "#000", "baseline": "middle", "align": "center", "dy": 3}, "encoding": {"text": {"field": "pct"}}}
 ]},
{"transform": [{"filter": {"field": "cat", "equal": "Câmbio"}}],
 "encoding": {"x": {"field": "cat", "type": "nominal", "bandPosition": 0.49}, "y": {"datum": 583.1, "type": "quantitative"}},
 "layer": [
  {"mark": {"type": "point", "shape": "M 1 0 C 1 0.289 0.552 0.523 0 0.523 C -0.552 0.523 -1 0.289 -1 0 C -1 -0.289 -0.552 -0.523 0 -0.523 C 0.552 -0.523 1 -0.289 1 0 Z", "size": 16384, "filled": false, "color": "#FF22CC", "strokeWidth": 5, "opacity": 1}},
  {"mark": {"type": "text", "fontWeight": "bold", "fontSize": 32, "color": "#000", "baseline": "middle", "align": "center", "dy": 3}, "encoding": {"text": {"field": "pct"}}}
 ]},
{"data": {"name": "rightMeta"},
 "mark": {"type": "point", "shape": "M -1 -0.201 L 0.614 -0.201 L 0.614 -0.39 L 1 0 L 0.614 0.39 L 0.614 0.201 L -1 0.201 Z", "size": 69696, "filled": true, "color": "#D9D9D9", "opacity": 1, "strokeWidth": 0},
 "encoding": {"x": {"datum": "Preço/Mix", "type": "nominal", "bandPosition": 0.104}, "y": {"datum": 301.7, "type": "quantitative"}}},
{"data": {"name": "rightMeta"},
 "mark": {"type": "text", "fontSize": 33, "color": "#000", "baseline": "middle", "align": "center"},
 "encoding": {"x": {"datum": "Preço/Mix", "type": "nominal", "bandPosition": 0.049}, "y": {"datum": 299.0, "type": "quantitative"}, "text": {"field": "change"}}},
{"data": {"name": "rightMeta"},
 "mark": {"type": "text", "fontWeight": "bold", "fontSize": 44, "color": "#000", "baseline": "alphabetic", "align": "center"},
 "encoding": {"x": {"datum": "Preço/Mix", "type": "nominal", "bandPosition": 0.865}, "y": {"datum": 659.6, "type": "quantitative"}, "text": {"field": "title"}}},
{"data": {"name": "rightMeta"},
 "mark": {"type": "tick", "orient": "horizontal", "size": 107, "thickness": 3.5, "color": "#000", "opacity": 1, "xOffset": 66},
 "encoding": {"x": {"datum": "Preço/Mix", "type": "nominal"}, "y": {"datum": 653.0, "type": "quantitative"}}},
{"data": {"name": "rightMeta"},
 "mark": {"type": "text", "font": "Liberation Sans", "fontSize": 26, "color": "#262626", "baseline": "alphabetic", "align": "left"},
 "encoding": {"x": {"datum": "1S19", "type": "nominal", "bandPosition": 0.214}, "y": {"datum": 157.7, "type": "quantitative"}, "text": {"field": "unit"}}}
]},
{"transform": [{"filter": {"field": "kind", "equal": "total"}}],
 "mark": {"type": "text", "fontWeight": "bold", "fontSize": 36, "color": "#fff", "baseline": "middle", "align": "center", "dy": 2},
 "encoding": {"x": {"field": "cat", "type": "nominal"}, "y": {"field": "hi", "type": "quantitative", "scale": {"domain": [251.1, 1273.5], "nice": false, "zero": false}, "axis": null}, "text": {"field": "value"}}}
],
"resolve": {"scale": {"y": "independent"}}
}
],
"resolve": {"scale": {"x": "independent", "y": "independent"}, "axis": {"x": "independent", "y": "independent"}}
}
